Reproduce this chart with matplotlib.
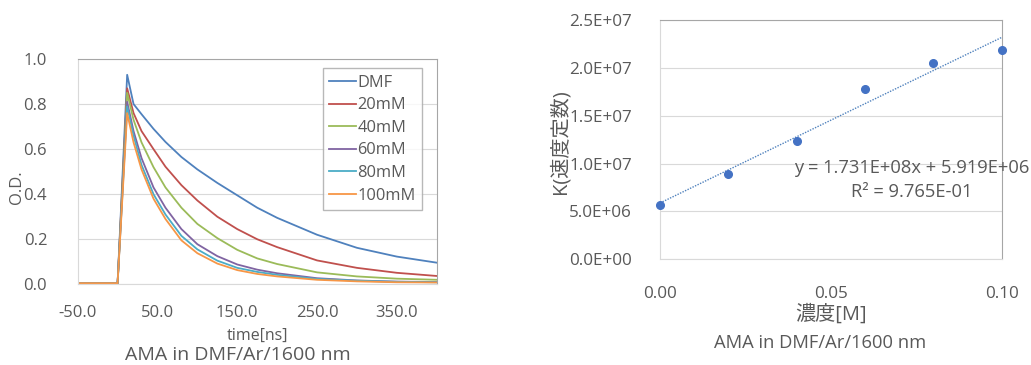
import matplotlib
matplotlib.use('Agg')
import matplotlib.pyplot as plt
import numpy as np

plt.rcParams['font.family'] = ['Open Sans', 'Noto Sans CJK JP', 'DejaVu Sans']

# transient absorption decays (time in ns, O.D.)
time_ns = [-50, 0, 12, 20, 30, 45, 60, 80, 100, 125, 150, 175, 200, 250, 300, 350, 400]
od_dmf = [0.005, 0.005, 0.93, 0.80, 0.755, 0.69, 0.632, 0.565, 0.51, 0.45, 0.395, 0.34, 0.295, 0.22, 0.162, 0.123, 0.096]
od_20mM = [0.005, 0.005, 0.87, 0.76, 0.68, 0.60, 0.522, 0.44, 0.372, 0.30, 0.245, 0.20, 0.165, 0.106, 0.073, 0.051, 0.037]
od_40mM = [0.005, 0.005, 0.85, 0.73, 0.63, 0.52, 0.43, 0.34, 0.268, 0.205, 0.153, 0.115, 0.09, 0.053, 0.035, 0.025, 0.02]
od_60mM = [0.005, 0.005, 0.81, 0.68, 0.56, 0.43, 0.34, 0.245, 0.178, 0.125, 0.088, 0.065, 0.049, 0.027, 0.017, 0.012, 0.01]
od_80mM = [0.005, 0.005, 0.79, 0.66, 0.53, 0.40, 0.31, 0.215, 0.155, 0.105, 0.073, 0.055, 0.042, 0.024, 0.016, 0.011, 0.009]
od_100mM = [0.005, 0.005, 0.76, 0.63, 0.51, 0.38, 0.29, 0.195, 0.138, 0.092, 0.063, 0.046, 0.035, 0.02, 0.013, 0.009, 0.008]
series_names = ['DMF', '20mM', '40mM', '60mM', '80mM', '100mM']
series_colors = ['#4F81BD', '#C0504D', '#9BBB59', '#8064A2', '#4BACC6', '#F79646']

# rate constant vs concentration
conc = [0.00, 0.02, 0.04, 0.06, 0.08, 0.10]
rate_k = [5.7e6, 8.9e6, 1.239e7, 1.782e7, 2.051e7, 2.187e7]

text_col = '#595959'
grid_col = '#D9D9D9'

fig = plt.figure(figsize=(10.31, 3.65), dpi=100)
W, H = 1031, 365


def px_axes(x0, y0, x1, y1):
    return fig.add_axes([x0 / W, 1 - y1 / H, (x1 - x0) / W, (y1 - y0) / H])


def excel_style(ax):
    ax.set_facecolor('white')
    ax.grid(axis='y', color=grid_col, linewidth=0.8)
    ax.set_axisbelow(True)
    ax.tick_params(length=0, colors=text_col, labelsize=12)
    for s in ['left', 'bottom']:
        ax.spines[s].set_color(grid_col)
    for s in ['top', 'right']:
        ax.spines[s].set_color('#A6A6A6')


# left panel: decays
ax1 = px_axes(77.7, 59, 436.7, 284.3)
excel_style(ax1)
all_od = [od_dmf, od_20mM, od_40mM, od_60mM, od_80mM, od_100mM]
for name, col, od in zip(series_names, series_colors, all_od):
    ax1.plot(time_ns, od, color=col, linewidth=1.3, label=name)
ax1.set_xlim(-50, 400)
ax1.set_ylim(0, 1.0)
ax1.set_xticks([-50, 50, 150, 250, 350])
ax1.set_xticklabels(['-50.0', '50.0', '150.0', '250.0', '350.0'])
ax1.set_yticks(np.arange(0, 1.01, 0.2))
ax1.set_yticklabels(['%.1f' % v for v in np.arange(0, 1.01, 0.2)])
ax1.tick_params(axis='x', pad=15)
ax1.tick_params(axis='y', pad=22)
leg = ax1.legend(loc='upper left', bbox_to_anchor=(0.683, 0.959), borderaxespad=0,
                 handlelength=1.6, handletextpad=0.1, labelspacing=0.4,
                 fontsize=11.8, fancybox=False, frameon=True, borderpad=0.4)
leg.get_frame().set_edgecolor('#A6A6A6')
leg.get_frame().set_linewidth(1.0)
for t in leg.get_texts():
    t.set_color(text_col)

fig.text(17 / W, 1 - 187 / H, 'O.D.', rotation=90, ha='center', va='center',
         color=text_col, fontsize=12)
fig.text(257 / W, 1 - 336 / H, 'time[ns]', ha='center', va='center',
         color=text_col, fontsize=11.5)
fig.text(238 / W, 1 - 355 / H, 'AMA in DMF/Ar/1600 nm', ha='center', va='center',
         color=text_col, fontsize=14)

# right panel: rate constant
ax2 = px_axes(660, 20, 1001.7, 259.3)
excel_style(ax2)
ax2.tick_params(labelsize=12.3)
fit = np.polyfit(conc, rate_k, 1)
xs = np.array([0.0, 0.10])
ax2.plot(xs, np.polyval(fit, xs), linestyle=(0, (1, 1)), color='#4F81BD', linewidth=1.0)
ax2.plot(conc, rate_k, 'o', color='#4472C4', markersize=5.5, clip_on=False, zorder=3)
ax2.set_xlim(0, 0.10)
ax2.set_ylim(0, 2.5e7)
ax2.set_xticks([0.0, 0.05, 0.10])
ax2.set_xticklabels(['0.00', '0.05', '0.10'])
yt = np.arange(0, 2.51e7, 5e6)
ax2.set_yticks(yt)
ax2.set_yticklabels(['{:.1E}'.format(v) for v in yt])
ax2.tick_params(axis='x', pad=19)
ax2.tick_params(axis='y', pad=20)

fig.text(560 / W, 1 - 142 / H, 'K(速度定数)', rotation=90, ha='center', va='center',
         color=text_col, fontsize=14.5)
fig.text(831 / W, 1 - 315 / H, '濃度[M]', ha='center', va='center',
         color=text_col, fontsize=14.5)
fig.text(820 / W, 1 - 343 / H, 'AMA in DMF/Ar/1600 nm', ha='center', va='center',
         color=text_col, fontsize=13.2)
fig.text(912 / W, 1 - 168 / H, 'y = 1.731E+08x + 5.919E+06', ha='center', va='center',
         color=text_col, fontsize=13.2)
fig.text(912 / W, 1 - 192 / H, 'R² = 9.765E-01', ha='center', va='center',
         color=text_col, fontsize=13.2)

fig.savefig('out.png', dpi=100)
